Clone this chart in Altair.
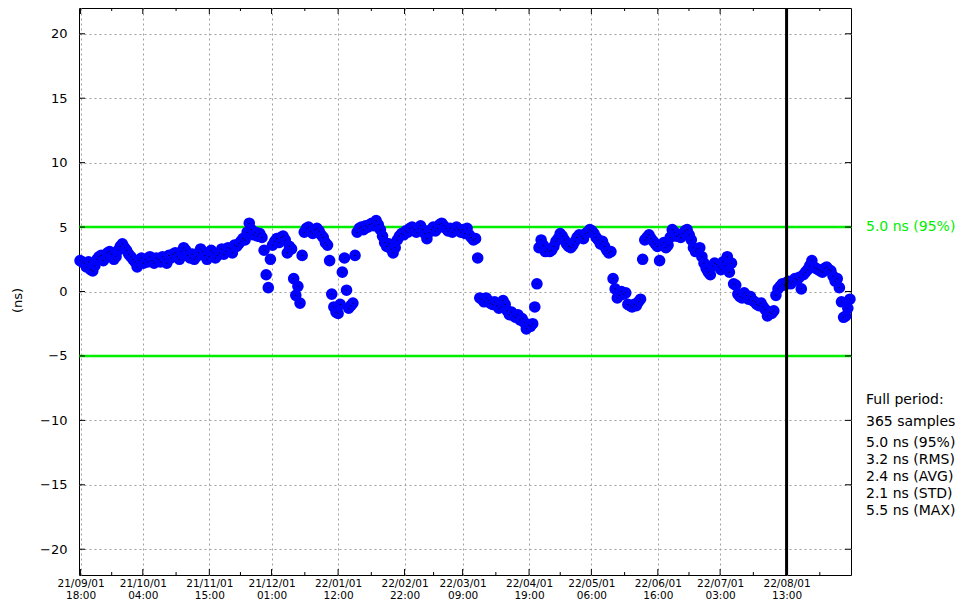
import altair as alt
import pandas as pd

# ---------------- data ----------------
start_time = "2021-09-01T12:00:00"   # first daily sample
offset_ns = [
    2.4, 2.3, 2.2, 1.9, 2.3, 1.7, 1.6, 2.0, 2.5, 2.7,
    2.8, 2.4, 2.6, 3.0, 3.1, 2.9, 2.5, 2.7, 3.2, 3.5,
    3.7, 3.4, 3.2, 2.9, 2.7, 2.5, 2.3, 1.9, 2.4, 2.6,
    2.2, 2.5, 2.3, 2.7, 2.4, 2.2, 2.6, 2.5, 2.3, 2.7,
    2.5, 2.2, 2.8, 2.6, 2.9, 3.0, 2.7, 2.5, 3.1, 3.4,
    3.2, 2.8, 2.6, 2.9, 2.5, 2.7, 3.0, 3.3, 3.1, 2.8,
    2.5, 2.7, 3.2, 3.0, 2.6, 2.8, 3.0, 3.3, 2.9, 3.1,
    3.4, 3.3, 3.0, 3.6, 3.5, 3.7, 3.9, 4.1, 4.0, 4.6,
    5.3, 4.8, 4.4, 4.6, 4.3, 4.5, 4.2, 3.2, 1.3, 0.3,
    2.5, 3.6, 3.9, 4.1, 3.8, 4.2, 4.3, 4.0, 3.0, 3.5,
    3.3, 1.0, -0.3, 0.4, -0.9, 2.8, 4.6, 4.9, 5.0, 4.7,
    4.5, 4.8, 4.9, 4.7, 4.4, 4.2, 3.8, 3.6, 2.4, -0.2,
    -1.2, -1.6, -1.7, -1.0, 1.5, 2.6, 0.1, -1.3, -1.1, -0.9,
    2.8, 4.6, 4.9, 5.0, 4.8, 5.1, 5.0, 5.2, 5.3, 5.1,
    5.5, 5.2, 4.8, 4.3, 3.8, 3.5, 3.7, 3.3, 3.0, 3.4,
    4.0, 4.3, 4.5, 4.4, 4.7, 4.6, 4.9, 5.0, 4.8, 4.6,
    4.9, 5.1, 4.8, 4.5, 4.1, 4.6, 4.8, 5.0, 4.7, 4.9,
    5.2, 5.3, 5.1, 4.9, 4.7, 4.9, 4.6, 4.8, 5.0, 4.8,
    4.6, 4.8, 4.5, 4.9, 4.4, 4.2, 4.0, 4.1, 2.6, -0.5,
    -0.6, -0.8, -0.5, -0.7, -0.9, -1.0, -0.8, -1.1, -1.3, -1.2,
    -0.7, -1.0, -1.5, -1.8, -1.6, -1.9, -2.0, -1.8, -2.2, -2.1,
    -2.4, -2.9, -2.6, -2.7, -2.5, -1.2, 0.6, 3.4, 4.0, 3.6,
    3.1, 3.3, 3.1, 3.2, 3.5, 3.9, 4.1, 4.5, 4.3, 4.0,
    3.7, 3.5, 3.4, 3.6, 3.9, 4.2, 4.4, 4.3, 4.1, 4.5,
    4.6, 4.8, 4.7, 4.5, 4.2, 4.0, 3.7, 3.9, 3.5, 3.2,
    3.0, 3.1, 1.0, 0.2, -0.5, -0.3, 0.0, -0.2, -0.1, -1.0,
    -1.1, -1.2, -1.0, -1.1, -0.8, -0.6, 2.5, 4.0, 4.2, 4.4,
    4.1, 3.9, 3.7, 3.5, 2.4, 3.6, 3.8, 3.4, 3.6, 4.2,
    4.8, 4.6, 4.3, 4.4, 4.2, 4.5, 4.7, 4.8, 4.4, 4.0,
    3.4, 3.1, 3.3, 3.4, 2.7, 2.2, 1.8, 1.5, 1.3, 2.0,
    2.2, 2.1, 1.9, 1.7, 2.3, 2.0, 2.7, 1.5, 2.2, 0.6,
    0.5, -0.2, -0.4, -0.5, -0.1, -0.3, -0.6, -0.4, -0.7, -0.8,
    -1.0, -1.1, -0.9, -1.2, -1.4, -1.9, -1.6, -1.7, -1.5, -0.3,
    0.2, 0.4, 0.6, 0.5, 0.7, 0.8, 0.6, 0.8, 1.0, 0.9,
    1.1, 0.2, 1.3, 1.5, 1.7, 2.0, 2.4, 1.9, 1.8, 1.7,
    1.6, 1.5, 1.8, 1.9, 1.7, 1.6, 1.2, 0.8, 1.0, 0.3,
    -0.8, -2.0, -1.9, -1.3, -0.6,
]

x_domain = ["2021-09-01T00:00:00", "2022-09-01T00:00:00"]
major_ticks = [
    "2021-09-01T18:00:00", "2021-10-01T04:00:00", "2021-11-01T15:00:00",
    "2021-12-01T01:00:00", "2022-01-01T12:00:00", "2022-02-01T22:00:00",
    "2022-03-01T09:00:00", "2022-04-01T19:00:00", "2022-05-01T06:00:00",
    "2022-06-01T16:00:00", "2022-07-01T03:00:00", "2022-08-01T13:00:00",
]
minor_ticks = [
    "2021-09-16T11:00:00", "2021-10-16T21:30:00", "2021-11-16T08:00:00",
    "2021-12-16T18:30:00", "2022-01-17T05:00:00", "2022-02-15T15:30:00",
    "2022-03-17T02:00:00", "2022-04-16T12:30:00", "2022-05-16T23:00:00",
    "2022-06-16T09:30:00", "2022-07-16T20:00:00", "2022-08-17T06:00:00",
]
y_ticks = [-20, -15, -10, -5, 0, 5, 10, 15, 20]
y_domain = [-22, 22]
limit_lines = [5.0, -5.0]
marker_time = ["2022-08-01T13:00:00"]
limit_label = ["5.0 ns (95%)"]
stats_lines = ["Full period:", "365 samples", "5.0 ns (95%)", "3.2 ns (RMS)",
               "2.4 ns (AVG)", "2.1 ns (STD)", "5.5 ns (MAX)"]
y_title = "(ns)"

# ---------------- layout ----------------
W, H = 772, 567
FONT = "DejaVu Sans"
BLUE = "#0000ff"
GREEN = "#00ee00"


def dt(s):
    ts = pd.Timestamp(s)
    return alt.DateTime(year=ts.year, month=ts.month, date=ts.day,
                        hours=ts.hour, minutes=ts.minute)


times = pd.date_range(start_time, periods=len(offset_ns), freq="D").strftime("%Y-%m-%dT%H:%M:%S")
df = pd.DataFrame({"t": list(times), "v": offset_ns})

x_axis = alt.Axis(
    values=[dt(s) for s in major_ticks],
    labelExpr="[timeFormat(datum.value, '%y/%m/%d'), timeFormat(datum.value, '%H:%M')]",
    title=None, grid=True, gridColor="#a0a0a0", gridDash=[2, 3], gridWidth=1,
    ticks=False, domain=False, labelFont=FONT, labelFontSize=10.5, labelLineHeight=12.5,
    labelPadding=3, labelColor="black", labelFlush=False, labelOverlap=False,
    labelAlign="center", labelBaseline="top",
)
y_axis = alt.Axis(
    values=y_ticks, title=y_title, grid=True, gridColor="#a0a0a0", gridDash=[2, 3],
    gridWidth=1, ticks=False, domain=False, labelFont=FONT, labelFontSize=13,
    labelPadding=12, labelColor="black", titleFont=FONT, titleFontSize=13,
    titleFontWeight="normal", titleColor="black", titleX=-62, titleY=292,
    titleAlign="center", titleBaseline="middle", titleAngle=270,
)

x_enc = alt.X("t:T", scale=alt.Scale(domain=[dt(s) for s in x_domain]), axis=x_axis)
y_enc = alt.Y("v:Q", scale=alt.Scale(domain=y_domain, nice=False, zero=False), axis=y_axis)

limits = alt.Chart(pd.DataFrame({"v": limit_lines})).mark_rule(
    color=GREEN, strokeWidth=2.5).encode(y=y_enc)

points = alt.Chart(df).mark_circle(size=135, color=BLUE, opacity=1).encode(x=x_enc, y=y_enc)
dots = alt.Chart(df).mark_circle(size=1.2, color="black", opacity=1).encode(x=x_enc, y=y_enc)

vline = alt.Chart(pd.DataFrame({"t": marker_time})).mark_rule(
    color="black", strokeWidth=3).encode(x=x_enc)

ydf = pd.DataFrame({"v": y_ticks})
ytick_l = alt.Chart(ydf).mark_rule(color="black").encode(y=y_enc, x=alt.value(0), x2=alt.value(6))
ytick_r = alt.Chart(ydf).mark_rule(color="black").encode(y=y_enc, x=alt.value(W - 6), x2=alt.value(W))

mdf = pd.DataFrame({"t": major_ticks})
ndf = pd.DataFrame({"t": minor_ticks})
xt_b = alt.Chart(mdf).mark_rule(color="black").encode(x=x_enc, y=alt.value(H - 6), y2=alt.value(H))
xt_t = alt.Chart(mdf).mark_rule(color="black").encode(x=x_enc, y=alt.value(0), y2=alt.value(6))
xm_b = alt.Chart(ndf).mark_rule(color="black").encode(x=x_enc, y=alt.value(H - 3), y2=alt.value(H))
xm_t = alt.Chart(ndf).mark_rule(color="black").encode(x=x_enc, y=alt.value(0), y2=alt.value(3))

green_txt = alt.Chart(pd.DataFrame({"v": [5.0], "label": limit_label})).mark_text(
    align="left", baseline="middle", color=GREEN, font=FONT, fontSize=14
).encode(y=y_enc, x=alt.value(W + 15), text="label:N")

stat_y = [392, 413.5, 435, 452, 469, 486, 503]
stat_layers = []
for line, py in zip(stats_lines, stat_y):
    stat_layers.append(
        alt.Chart(pd.DataFrame({"label": [line]})).mark_text(
            align="left", baseline="middle", color="black", font=FONT, fontSize=14
        ).encode(x=alt.value(W + 15), y=alt.value(py), text="label:N")
    )

chart = alt.layer(
    limits, points, dots, vline, ytick_l, ytick_r, xt_b, xt_t, xm_b, xm_t,
    green_txt, *stat_layers
).properties(
    width=W, height=H,
    padding={"left": 71, "top": 0, "right": 104, "bottom": 30},
    autosize=alt.AutoSizeParams(type="none"),
    background="white",
).configure_view(stroke="black", strokeWidth=1)

chart.save("out.html", embed_options={"renderer": "svg", "actions": False})
